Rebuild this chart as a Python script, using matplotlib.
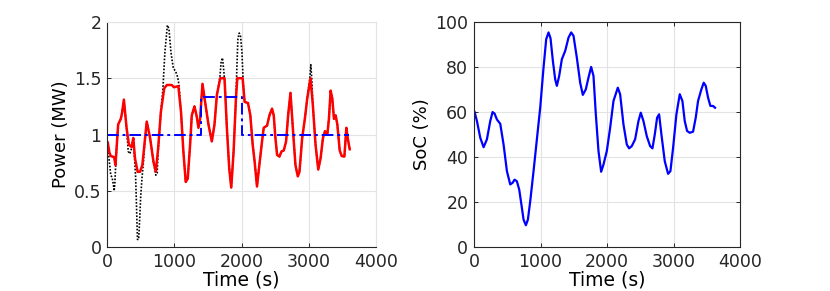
import matplotlib.pyplot as plt

# Grid output power (red) [s, MW]
t_out = [10, 35, 55, 105, 125, 165, 205, 225, 250, 290, 325, 365, 390, 415, 455, 490,
         525, 590, 640, 690, 725, 760, 800, 850, 890, 960, 995, 1060, 1100, 1135, 1170,
         1200, 1235, 1260, 1300, 1334, 1359, 1384, 1419, 1458, 1508, 1558, 1598, 1633,
         1683, 1747, 1782, 1817, 1847, 1882, 1917, 1937, 2016, 2046, 2096, 2131, 2166,
         2195, 2230, 2265, 2305, 2330, 2355, 2380, 2415, 2454, 2479, 2504, 2529, 2564,
         2594, 2629, 2663, 2693, 2728, 2763, 2802, 2837, 2862, 2902, 2942, 2977, 3026,
         3061, 3101, 3141, 3176, 3211, 3241, 3276, 3300, 3325, 3350, 3375, 3400, 3425,
         3460, 3490, 3530, 3559, 3579, 3609]
p_out = [0.93, 0.84, 0.81, 0.80, 0.73, 1.09, 1.14, 1.20, 1.31, 1.06, 0.91, 0.89, 0.97, 0.79,
         0.67, 0.67, 0.73, 1.115, 0.97, 0.76, 0.67, 0.88, 1.20, 1.41, 1.44, 1.44, 1.42, 1.43,
         1.20, 0.85, 0.58, 0.61, 0.91, 1.17, 1.25, 1.16, 1.06, 1.14, 1.45, 1.29, 1.09, 0.94,
         1.09, 1.35, 1.50, 1.50, 1.06, 0.70, 0.53, 0.85, 1.32, 1.50, 1.50, 1.29, 1.28, 1.17,
         0.91, 0.76, 0.54, 0.73, 0.94, 1.06, 1.07, 1.08, 1.17, 1.23, 1.17, 0.97, 0.82, 0.805,
         0.85, 0.86, 0.94, 1.17, 1.37, 1.06, 0.73, 0.63, 0.67, 0.97, 1.14, 1.32, 1.50, 1.26,
         0.91, 0.69, 0.79, 0.97, 1.03, 1.00, 1.14, 1.39, 1.32, 1.14, 1.17, 1.09, 0.86, 0.81,
         0.805, 1.06, 0.97, 0.87]

# PV power (black dotted) [s, MW]
t_pv = [10, 30, 55, 75, 95, 105, 115, 130, 145, 165, 205, 225, 250, 290, 315, 340, 365,
        390, 410, 425, 440, 452, 470, 485, 500, 520, 540, 560, 590, 640, 690, 725, 745,
        760, 800, 830, 860, 897, 920, 950, 985, 1020, 1050, 1070, 1100, 1135, 1170, 1200,
        1235, 1260, 1300, 1334, 1359, 1384, 1419, 1458, 1508, 1558, 1598, 1633, 1677, 1697,
        1717, 1737, 1757, 1782, 1817, 1847, 1882, 1917, 1932, 1946, 1966, 1986, 2006, 2026,
        2046, 2096, 2131, 2166, 2195, 2230, 2265, 2305, 2330, 2355, 2380, 2415, 2454, 2479,
        2504, 2529, 2564, 2594, 2629, 2663, 2693, 2728, 2763, 2802, 2837, 2862, 2902, 2942,
        2977, 3016, 3031, 3046, 3061, 3101, 3141, 3176, 3211, 3241, 3276, 3300, 3325, 3350,
        3375, 3400, 3425, 3460, 3490, 3530, 3559, 3579, 3609]
p_pv = [0.93, 0.78, 0.64, 0.62, 0.55, 0.50, 0.56, 0.75, 0.92, 1.09, 1.14, 1.20, 1.31, 1.06,
        0.85, 0.83, 0.88, 0.97, 0.78, 0.62, 0.32, 0.07, 0.07, 0.25, 0.45, 0.62, 0.75, 0.92,
        1.115, 0.97, 0.76, 0.64, 0.66, 0.85, 1.20, 1.40, 1.73, 1.97, 1.94, 1.73, 1.59, 1.56,
        1.51, 1.44, 1.20, 0.85, 0.58, 0.61, 0.91, 1.17, 1.25, 1.16, 1.06, 1.14, 1.45, 1.29,
        1.09, 0.94, 1.09, 1.35, 1.50, 1.65, 1.68, 1.56, 1.40, 1.06, 0.70, 0.53, 0.85, 1.32,
        1.62, 1.85, 1.90, 1.87, 1.73, 1.45, 1.29, 1.28, 1.17, 0.91, 0.76, 0.54, 0.73, 0.94,
        1.06, 1.07, 1.08, 1.17, 1.23, 1.17, 0.97, 0.82, 0.805, 0.85, 0.86, 0.94, 1.17, 1.37,
        1.06, 0.73, 0.63, 0.67, 0.97, 1.14, 1.32, 1.50, 1.62, 1.48, 1.26, 0.91, 0.69, 0.79,
        0.97, 1.03, 1.00, 1.14, 1.39, 1.32, 1.14, 1.17, 1.09, 0.86, 0.81, 0.805, 1.06, 0.97,
        0.87]

# Reference power (blue dash-dot), step changes [s, MW]
t_ref = [0, 1400, 2000, 3600]
p_ref = [1.0, 1.33, 1.0, 1.0]

# Battery state of charge [s, %]
t_soc = [10, 45, 95, 145, 195, 245, 280, 310, 345, 395, 445, 495, 545, 580, 610, 645, 680,
         720, 745, 780, 810, 845, 895, 945, 995, 1045, 1085, 1120, 1150, 1185, 1220, 1245,
         1280, 1320, 1370, 1420, 1460, 1495, 1545, 1595, 1635, 1680, 1720, 1760, 1795, 1830,
         1870, 1910, 1945, 1995, 2045, 2095, 2160, 2195, 2245, 2295, 2330, 2370, 2420, 2470,
         2505, 2545, 2595, 2645, 2680, 2715, 2750, 2780, 2815, 2865, 2915, 2950, 2990, 3040,
         3090, 3130, 3165, 3200, 3240, 3290, 3330, 3365, 3415, 3450, 3480, 3515, 3550, 3590,
         3620]
soc = [60, 56, 48.6, 44.4, 47.9, 56, 60, 59.3, 56.7, 54.8, 45.6, 33.8, 27.9, 28.6, 30, 29.3,
       25.6, 17.5, 12.3, 9.8, 12.3, 20.4, 33.8, 47.9, 61.9, 79.7, 92.3, 95.3, 92.7, 82.7,
       74.5, 71.6, 76, 83.4, 87.1, 93, 95.3, 93.8, 84.1, 73, 67.6, 70.1, 75.3, 80, 76, 59,
       42.7, 33.5, 36.7, 42.7, 53, 64.9, 70.8, 67.9, 54.5, 45.6, 43.9, 44.9, 47.9, 56, 59.7,
       56, 49.3, 44.9, 43.9, 50, 57.5, 59, 50, 38.2, 32.6, 33.8, 44.1, 59, 67.9, 64.9, 56,
       51.6, 50.8, 51.3, 57.5, 64.9, 70.1, 73, 71.6, 66.4, 62.7, 62.7, 61.9]

plt.rcParams['font.family'] = 'DejaVu Sans'

fig = plt.figure(figsize=(8.3, 2.91), dpi=100)
ax1 = fig.add_axes([0.129, 0.150, 0.324, 0.775])
ax2 = fig.add_axes([0.571, 0.150, 0.321, 0.775])

grid_col = '#e3e3e3'
spine_col = '#262626'

# --- Power plot ---
ax1.plot(t_pv, p_pv, color='black', linestyle=(0, (1, 1)), linewidth=1.2)
ax1.plot(t_out, p_out, color='red', linewidth=1.8)
ax1.plot(t_ref, p_ref, color='blue', linestyle=(0, (6, 2, 1.5, 2)), linewidth=1.4,
         drawstyle='steps-post')
ax1.set_xlim(0, 4000)
ax1.set_ylim(0, 2)
ax1.set_xticks([0, 1000, 2000, 3000, 4000])
ax1.set_yticks([0, 0.5, 1, 1.5, 2])
ax1.set_yticklabels(['0', '0.5', '1', '1.5', '2'])
ax1.set_xlabel('Time (s)', fontsize=13.5, labelpad=0)
ax1.set_ylabel('Power (MW)', fontsize=13, labelpad=3)
# box off: top/right edges only show as grid lines
ax1.spines['top'].set_color(grid_col)
ax1.spines['right'].set_color(grid_col)

# --- SoC plot ---
ax2.plot(t_soc, soc, color='blue', linewidth=1.6)
ax2.set_xlim(0, 4000)
ax2.set_ylim(0, 100)
ax2.set_xticks([0, 1000, 2000, 3000, 4000])
ax2.set_yticks([0, 20, 40, 60, 80, 100])
ax2.set_xlabel('Time (s)', fontsize=13.5, labelpad=0)
ax2.set_ylabel('SoC (%)', fontsize=13, labelpad=3)

for ax in (ax1, ax2):
    ax.grid(True, color=grid_col, linewidth=0.8)
    ax.set_axisbelow(True)
    ax.tick_params(direction='in', length=3, width=0.7, colors=spine_col,
                   labelsize=12.5, top=(ax is ax2), right=(ax is ax2))
    ax.tick_params(axis='x', pad=4)
    ax.tick_params(axis='y', pad=4)
    for side in ('left', 'bottom'):
        ax.spines[side].set_color(spine_col)
        ax.spines[side].set_linewidth(0.8)
    if ax is ax2:
        ax.spines['top'].set_color(spine_col)
        ax.spines['right'].set_color(spine_col)
    ax.spines['top'].set_linewidth(0.8)
    ax.spines['right'].set_linewidth(0.8)

fig.savefig('out.png', dpi=100)
